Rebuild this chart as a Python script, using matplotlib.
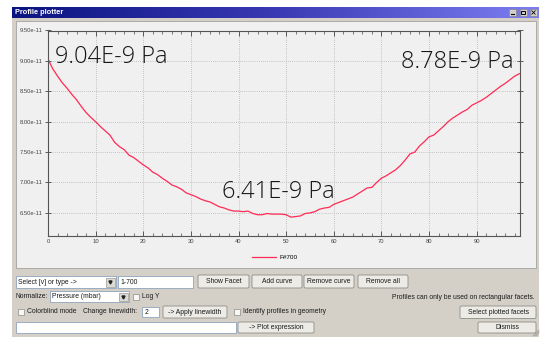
import numpy as np
import matplotlib
matplotlib.use('Agg')
import matplotlib.pyplot as plt
from matplotlib.patches import Rectangle, FancyBboxPatch
from matplotlib.ticker import MultipleLocator, FuncFormatter

# profile data (pressure in mbar, facet index)
facet = list(range(100))
pressure_e11 = [9.03, 8.87, 8.75, 8.64, 8.55, 8.45, 8.36, 8.25, 8.15, 8.07,
                8.00, 7.92, 7.85, 7.78, 7.66, 7.59, 7.54, 7.45, 7.41, 7.35,
                7.29, 7.24, 7.17, 7.13, 7.07, 7.02, 6.96, 6.93, 6.89, 6.83,
                6.80, 6.77, 6.73, 6.70, 6.68, 6.64, 6.60, 6.58, 6.55, 6.53,
                6.53, 6.52, 6.53, 6.49, 6.47, 6.47, 6.49, 6.48, 6.48, 6.48,
                6.47, 6.43, 6.44, 6.45, 6.49, 6.50, 6.52, 6.56, 6.58, 6.59,
                6.64, 6.67, 6.70, 6.73, 6.76, 6.81, 6.86, 6.91, 6.92, 7.00,
                7.07, 7.11, 7.16, 7.21, 7.28, 7.37, 7.47, 7.50, 7.60, 7.67,
                7.75, 7.78, 7.85, 7.92, 8.00, 8.06, 8.11, 8.16, 8.20, 8.27,
                8.31, 8.35, 8.40, 8.46, 8.52, 8.58, 8.63, 8.69, 8.75, 8.79]
pressure = np.array(pressure_e11) * 1e-11
curve_name = 'F#700'
annotations = ['9.04E-9 Pa', '6.41E-9 Pa', '8.78E-9 Pa']
y_ticks = [6.5e-11, 7.0e-11, 7.5e-11, 8.0e-11, 8.5e-11, 9.0e-11, 9.5e-11]

W, H = 541, 337
UI = 'Liberation Sans'
FS = 4.9

fig = plt.figure(figsize=(W / 100, H / 100), dpi=100)
fig.patch.set_facecolor('white')

# background axes in pixel coordinates for the window chrome
bg = fig.add_axes([0, 0, 1, 1], zorder=0)
bg.set_xlim(0, W)
bg.set_ylim(H, 0)
bg.axis('off')

def px_box(l, t, r, b):
    return [l / W, 1 - b / H, (r - l) / W, (b - t) / H]

def button(x0, x1, y0, y1, text):
    bg.add_patch(FancyBboxPatch((x0 + 1, y0 + 1), x1 - x0 - 2, y1 - y0 - 2,
                                boxstyle='round,pad=1,rounding_size=1.5',
                                fc='#ecebe6', ec='#8e8c86', lw=0.6))
    bg.text((x0 + x1) / 2, (y0 + y1) / 2 + 0.3, text, ha='center', va='center',
            fontsize=FS, family=UI, color='#1a1a1a')

def textbox(x0, x1, y0, y1, text=''):
    bg.add_patch(Rectangle((x0, y0), x1 - x0, y1 - y0, fc='white', ec='#8fa4bd', lw=0.6))
    if text:
        bg.text(x0 + 2.5, (y0 + y1) / 2 + 0.3, text, ha='left', va='center',
                fontsize=FS, family=UI, color='#1a1a1a')

def combo(x0, x1, y0, y1, text):
    textbox(x0, x1, y0, y1, text)
    bg.add_patch(Rectangle((x1 - 10, y0 + 1.5), 8.5, y1 - y0 - 3, fc='#dcdad4', ec='#9a9893', lw=0.5))
    bg.plot([x1 - 5.8], [(y0 + y1) / 2], marker='v', ms=2.2, color='#222222')

def checkbox(x, yc, text=''):
    bg.add_patch(Rectangle((x, yc - 3), 6, 6, fc='#f7f7f5', ec='#8e8c86', lw=0.5))
    if text:
        bg.text(x + 9, yc + 0.3, text, ha='left', va='center', fontsize=FS, family=UI, color='#1a1a1a')

def label(x, yc, text, ha='left'):
    bg.text(x, yc + 0.3, text, ha=ha, va='center', fontsize=FS, family=UI, color='#1a1a1a')

# window frame, title bar, plot panel
bg.add_patch(Rectangle((12, 7), 527, H - 7, fc='#d4d0c8', ec='none'))
grad = np.linspace(0, 1, 256)[None, :]
cmap = matplotlib.colors.LinearSegmentedColormap.from_list('tb', ['#0a1480', '#3a3ab4', '#7c7ef0'])
bg.imshow(grad, extent=(12, 539, 18, 7), aspect='auto', cmap=cmap, zorder=1)
bg.text(15, 12.8, 'Profile plotter', ha='left', va='center', fontsize=5.3,
        family=UI, weight='bold', color='white', zorder=2)
for bx in [509, 519.5, 530]:
    bg.add_patch(Rectangle((bx, 9), 7, 7, fc='#d4d0c8', ec='#808080', lw=0.4, zorder=2))
bg.plot([510.8, 514.2], [14.3, 14.3], color='black', lw=0.8, zorder=3)
bg.add_patch(Rectangle((521, 10.6), 4, 3.8, fc='none', ec='black', lw=0.7, zorder=3))
bg.plot([531.8, 535.2], [10.8, 14.2], color='black', lw=0.6, zorder=3)
bg.plot([531.8, 535.2], [14.2, 10.8], color='black', lw=0.6, zorder=3)
bg.add_patch(Rectangle((16, 21), 520, 247, fc='#f0f0f0', ec='#a5a39e', lw=0.6, zorder=1))
bg.set_xlim(0, W)
bg.set_ylim(H, 0)

# controls below the plot
combo(16, 116, 276, 288, 'Select [v] or type ->')
textbox(118, 193, 276, 288, '1-700')
button(198, 249, 275, 288, 'Show Facet')
button(252, 302, 275, 288, 'Add curve')
button(304, 354, 275, 288, 'Remove curve')
button(358, 408, 275, 288, 'Remove all')
label(16, 296, 'Normalize:')
combo(50, 129, 291, 302, 'Pressure (mbar)')
checkbox(133, 296.5, 'Log Y')
label(535, 297, 'Profiles can only be used on rectangular facets.', ha='right')
checkbox(18, 311.5, 'Colorblind mode')
label(83, 311.5, 'Change linewidth:')
textbox(142, 159, 306.5, 317, '2')
button(163, 227, 306, 318, '-> Apply linewidth')
checkbox(234, 311.5, 'Identify profiles in geometry')
button(460, 536, 306, 318.5, 'Select plotted facets')
textbox(16, 236, 322, 332.5)
button(238, 314, 322, 333, '-> Plot expression')
button(478, 536, 322, 333, 'Dismiss')
for k in range(3):
    bg.plot([536 - 1.5 * k, 539], [336, 333 - 1.5 * k], color='#a09e98', lw=0.5)

# the profile plot itself
ax = fig.add_axes(px_box(48, 30.5, 519.5, 236), zorder=2)
ax.set_facecolor('#f0f0f0')
ax.plot(facet, pressure, color='#ff2a55', lw=0.9, label=curve_name)
ax.set_xlim(0, 99)
ax.set_ylim(6.12e-11, 9.5e-11)
ax.set_yticks(y_ticks)
ax.yaxis.set_major_formatter(FuncFormatter(lambda v, p: '%.2e' % v))
ax.xaxis.set_major_locator(MultipleLocator(10))
ax.xaxis.set_minor_locator(MultipleLocator(2))
ax.grid(True, which='major', color='#b4b4b4', lw=0.6, ls=(0, (1, 1.5)))
ax.tick_params(axis='x', which='major', direction='in', length=3.5, width=0.6,
               top=True, labelsize=4.2, pad=2, colors='#444444')
ax.tick_params(axis='x', which='minor', direction='in', length=2, width=0.5, top=True, colors='#444444')
ax.tick_params(axis='y', which='major', direction='inout', length=4, width=0.6,
               right=True, labelsize=4.2, pad=1.5, colors='#444444')
for lab in ax.get_xticklabels() + ax.get_yticklabels():
    lab.set_family(UI)
for s in ax.spines.values():
    s.set_color('#555555')
    s.set_linewidth(0.8)

ann_style = dict(va='baseline', fontsize=17, family='Open Sans', weight='light', color='#151515')
ax.text(1.4, 8.96e-11, annotations[0], ha='left', **ann_style)
ax.text(36.6, 6.745e-11, annotations[1], ha='left', **ann_style)
ax.text(97.8, 8.88e-11, annotations[2], ha='right', **ann_style)

leg = ax.legend(loc='center', bbox_to_anchor=(275 / W, 1 - 257 / H), bbox_transform=fig.transFigure,
                frameon=False, handlelength=3.8, handletextpad=0.6, prop={'family': UI, 'size': 4.6})

fig.savefig('out.png', dpi=100)
